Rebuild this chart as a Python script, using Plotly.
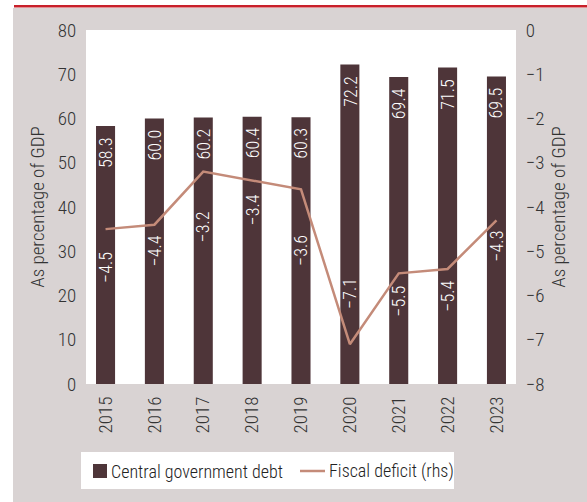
import plotly.graph_objects as go

years = ["2015", "2016", "2017", "2018", "2019", "2020", "2021", "2022", "2023"]
debt = [58.3, 60.0, 60.2, 60.4, 60.3, 72.2, 69.4, 71.5, 69.5]
deficit = [-4.5, -4.4, -3.2, -3.4, -3.6, -7.1, -5.5, -5.4, -4.3]
# vertical placement (rhs units) of the deficit labels
deficit_label_pos = [-5.36, -4.99, -4.45, -4.07, -4.99, -5.94, -6.12, -6.01, -4.88]
series_names = ["Central government debt", "Fiscal deficit (rhs)"]

W, H = 587, 502
L, R, T, B = 86, 71, 30, 118
FAM = "Roboto Condensed, Liberation Sans Narrow, Arial Narrow, Roboto, sans-serif"
WT = 300
BG = "#d9d3d3"
BAR = "#4e3539"
LINE = "#c48b79"
TXT = "#333333"

def F(size=19, color=TXT):
    return dict(family=FAM, size=size, color=color, weight=WT)

pw, ph = W - L - R, H - T - B
def px(x):
    return (x - L) / pw
def py(y):
    return (H - B - y) / ph

fig = go.Figure()
fig.add_trace(go.Bar(x=years, y=debt, name=series_names[0], showlegend=False,
                     marker=dict(color=BAR, line=dict(width=0)), width=0.39))
fig.add_trace(go.Scatter(x=years, y=deficit, name=series_names[1], yaxis="y2", showlegend=False,
                         mode="lines", line=dict(color=LINE, width=2.5)))

ann = []
for i, v in enumerate(debt):
    ann.append(dict(x=i, y=v, xref="x", yref="y", text=f"{v:.1f}", textangle=-90, showarrow=False,
                    yanchor="top", yshift=-9, font=F(18, "white")))
for i, (v, p) in enumerate(zip(deficit, deficit_label_pos)):
    ann.append(dict(x=i, y=p, xref="x", yref="y2", text=f"\u2212{abs(v):.1f}", textangle=-90,
                    showarrow=False, yanchor="middle", font=F(18, "white")))

# custom legend (white box, square marker, line marker)
ann.append(dict(x=px(109), y=py(471), xref="paper", yref="paper", text=series_names[0],
                showarrow=False, xanchor="left", yanchor="middle", font=F(18, "#222222")))
ann.append(dict(x=px(327), y=py(471), xref="paper", yref="paper", text=series_names[1],
                showarrow=False, xanchor="left", yanchor="middle", font=F(18, "#222222")))

shapes = [
    dict(type="rect", xref="paper", yref="paper", x0=px(0), x1=px(13), y0=py(H), y1=py(0),
         fillcolor="white", line=dict(width=0), layer="below"),
    dict(type="rect", xref="paper", yref="paper", x0=px(0), x1=px(W), y0=py(8), y1=py(0),
         fillcolor="white", line=dict(width=0), layer="below"),
    dict(type="rect", xref="paper", yref="paper", x0=px(14), x1=px(W), y0=py(7.5), y1=py(5),
         fillcolor="#c8202a", line=dict(width=0), layer="below"),
    dict(type="rect", xref="paper", yref="paper", x0=px(81), x1=px(454), y0=py(489), y1=py(452),
         fillcolor="white", line=dict(width=0), layer="above"),
    dict(type="rect", xref="paper", yref="paper", x0=px(93), x1=px(107), y0=py(478), y1=py(464),
         fillcolor=BAR, line=dict(width=0), layer="above"),
    dict(type="line", xref="paper", yref="paper", x0=px(300), x1=px(325), y0=py(471), y1=py(471),
         line=dict(color=LINE, width=2.5), layer="above"),
]

fig.update_layout(
    width=W, height=H,
    margin=dict(l=L, r=R, t=T, b=B),
    paper_bgcolor=BG, plot_bgcolor="white",
    font=F(19),
    showlegend=False,
    xaxis=dict(type="category", range=[-0.4, 8.4], tickangle=-90, showgrid=False,
               zeroline=False, showline=False, ticks="outside", ticklen=4, tickcolor=BG,
               tickfont=F(19)),
    yaxis=dict(range=[0, 80], dtick=10, showgrid=False, zeroline=False, showline=False,
               ticks="outside", ticklen=5, tickcolor=BG,
               title=dict(text="As percentage of GDP", standoff=8, font=F(19)),
               tickfont=F(19)),
    yaxis2=dict(range=[-8, 0], dtick=1, overlaying="y", side="right", showgrid=False,
                zeroline=False, showline=False, ticks="outside", ticklen=5, tickcolor=BG,
                title=dict(text="As percentage of GDP", standoff=8, font=F(19)),
                tickfont=F(19)),
    annotations=ann,
    shapes=shapes,
)

fig.write_html("out.html")
